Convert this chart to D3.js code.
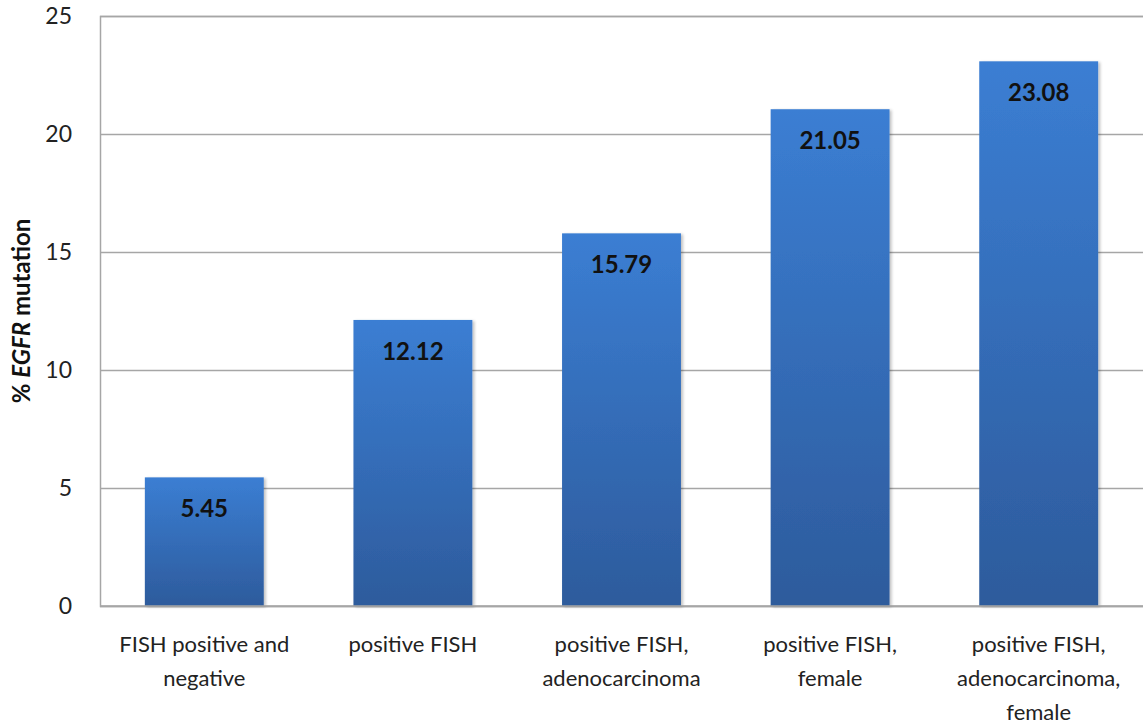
<!DOCTYPE html>
<html>
<head>
<meta charset="utf-8">
<script src="https://cdn.jsdelivr.net/npm/d3@7"></script>
<style>
  html, body { margin: 0; padding: 0; background: #fff; }
  svg { display: block; }
</style>
</head>
<body>
<svg id="chart" width="1143" height="725"></svg>
<script>
// Share of EGFR mutation by patient subgroup
const categories = [
  ["FISH positive and", "negative"],
  ["positive FISH"],
  ["positive FISH,", "adenocarcinoma"],
  ["positive FISH,", "female"],
  ["positive FISH,", "adenocarcinoma,", "female"]
];
const values = [5.45, 12.12, 15.79, 21.05, 23.08];
const yTicks = [0, 5, 10, 15, 20, 25];

const svg = d3.select("#chart");
const margin = { left: 100, top: 16, right: 0, bottom: 119 };
const W = 1143, H = 725;
const plotW = W - margin.left - margin.right;
const plotH = H - margin.top - margin.bottom;
const font = "Lato, 'Open Sans', sans-serif";

const x = d3.scaleBand()
  .domain(d3.range(values.length))
  .range([margin.left, margin.left + plotW])
  .paddingInner(0.43).paddingOuter(0.215);

const y = d3.scaleLinear().domain([0, 25]).range([margin.top + plotH, margin.top]);

const defs = svg.append("defs");
const grad = defs.append("linearGradient")
  .attr("id", "barGrad").attr("x1", 0).attr("y1", 0).attr("x2", 0).attr("y2", 1);
grad.append("stop").attr("offset", "0%").attr("stop-color", "#3b7ed3");
grad.append("stop").attr("offset", "100%").attr("stop-color", "#2d5b9c");

const shadow = defs.append("filter").attr("id", "shade")
  .attr("x", "-10%").attr("y", "-10%").attr("width", "130%").attr("height", "130%");
shadow.append("feGaussianBlur").attr("in", "SourceAlpha").attr("stdDeviation", 1.5);
shadow.append("feOffset").attr("dx", 2).attr("dy", 1).attr("result", "b");
shadow.append("feComponentTransfer").append("feFuncA").attr("type", "linear").attr("slope", 0.25);
const merge = shadow.append("feMerge");
merge.append("feMergeNode");
merge.append("feMergeNode").attr("in", "SourceGraphic");

// Gridlines and y axis labels
const yAxis = d3.axisLeft(y).tickValues(yTicks).tickSize(-plotW).tickPadding(28);
const gy = svg.append("g").attr("transform", `translate(${margin.left},0)`).call(yAxis);
gy.select(".domain").attr("stroke", "#a6a6a6").attr("stroke-width", 1.5);
gy.selectAll(".tick line").attr("stroke", "#a6a6a6").attr("stroke-width", 1.5);
gy.selectAll(".tick text")
  .attr("font-family", font).attr("font-size", 23).attr("fill", "#222")
  .attr("text-anchor", "end").attr("dx", 0);

// Bars
svg.append("g").selectAll("rect").data(values).join("rect")
  .attr("x", (d, i) => x(i))
  .attr("y", d => y(d))
  .attr("width", x.bandwidth())
  .attr("height", d => y(0) - y(d))
  .attr("fill", "url(#barGrad)")
  .attr("filter", "url(#shade)");

// Baseline
svg.append("line")
  .attr("x1", margin.left).attr("x2", margin.left + plotW)
  .attr("y1", y(0)).attr("y2", y(0))
  .attr("stroke", "#a6a6a6").attr("stroke-width", 1.5);

// Value labels
svg.append("g").selectAll("text").data(values).join("text")
  .attr("x", (d, i) => x(i) + x.bandwidth() / 2)
  .attr("y", d => y(d) + 40)
  .attr("text-anchor", "middle")
  .attr("font-family", font).attr("font-weight", "bold").attr("font-size", 24)
  .attr("fill", "#111")
  .text(d => d.toFixed(2));

// Category labels
const cat = svg.append("g").selectAll("text").data(categories).join("text")
  .attr("x", (d, i) => x(i) + x.bandwidth() / 2)
  .attr("y", 652)
  .attr("text-anchor", "middle")
  .attr("font-family", font).attr("font-size", 22).attr("fill", "#222");
cat.selectAll("tspan").data(d => d).join("tspan")
  .attr("x", function () { return this.parentNode.getAttribute("x"); })
  .attr("dy", (d, j) => j === 0 ? 0 : 34)
  .text(d => d);

// Y axis title
const title = svg.append("text")
  .attr("transform", `translate(30,${margin.top + plotH / 2}) rotate(-90)`)
  .attr("text-anchor", "middle")
  .attr("font-family", font).attr("font-weight", "bold").attr("font-size", 24)
  .attr("fill", "#111");
title.append("tspan").text("% ");
title.append("tspan").attr("font-style", "italic").text("EGFR");
title.append("tspan").text(" mutation");
</script>
</body>
</html>
